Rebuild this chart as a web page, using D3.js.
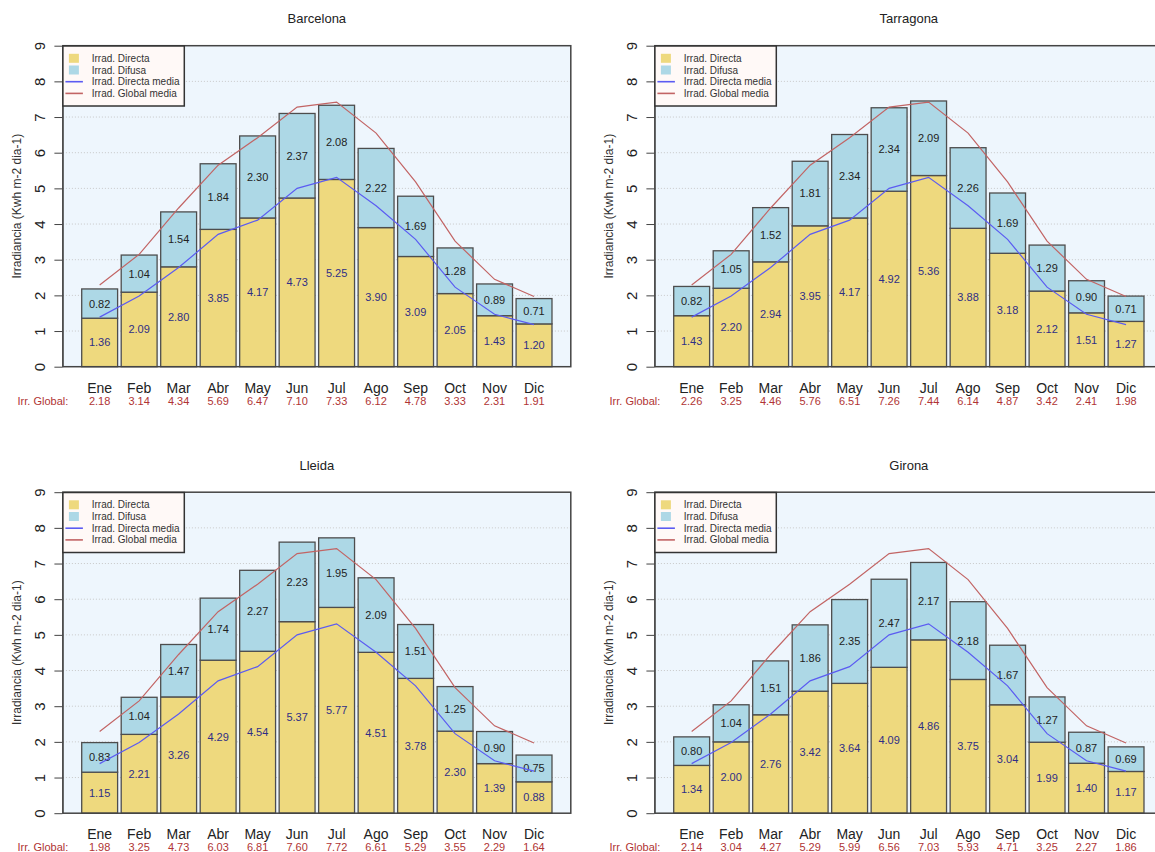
<!DOCTYPE html>
<meta charset="utf-8">
<html>
<script src="https://d3js.org/d3.v7.min.js"></script>
<style>
  body { margin: 0; background: white; }
  text { font-family: "Liberation Sans", Arial, Helvetica, sans-serif; }
</style>
<body>
<div id="myKeeper"></div>
<script>

// months and y ticks
const months = ["Ene", "Feb", "Mar", "Abr", "May", "Jun", "Jul", "Ago", "Sep", "Oct", "Nov", "Dic"];
const yTicks = [0, 1, 2, 3, 4, 5, 6, 7, 8, 9];

// values per city (kWh m-2 dia-1)
const barcelonaDirecta = [1.36, 2.09, 2.80, 3.85, 4.17, 4.73, 5.25, 3.90, 3.09, 2.05, 1.43, 1.20];
const barcelonaDifusa  = [0.82, 1.04, 1.54, 1.84, 2.30, 2.37, 2.08, 2.22, 1.69, 1.28, 0.89, 0.71];
const barcelonaGlobal  = [2.18, 3.14, 4.34, 5.69, 6.47, 7.10, 7.33, 6.12, 4.78, 3.33, 2.31, 1.91];

const tarragonaDirecta = [1.43, 2.20, 2.94, 3.95, 4.17, 4.92, 5.36, 3.88, 3.18, 2.12, 1.51, 1.27];
const tarragonaDifusa  = [0.82, 1.05, 1.52, 1.81, 2.34, 2.34, 2.09, 2.26, 1.69, 1.29, 0.90, 0.71];
const tarragonaGlobal  = [2.26, 3.25, 4.46, 5.76, 6.51, 7.26, 7.44, 6.14, 4.87, 3.42, 2.41, 1.98];

const lleidaDirecta = [1.15, 2.21, 3.26, 4.29, 4.54, 5.37, 5.77, 4.51, 3.78, 2.30, 1.39, 0.88];
const lleidaDifusa  = [0.83, 1.04, 1.47, 1.74, 2.27, 2.23, 1.95, 2.09, 1.51, 1.25, 0.90, 0.75];
const lleidaGlobal  = [1.98, 3.25, 4.73, 6.03, 6.81, 7.60, 7.72, 6.61, 5.29, 3.55, 2.29, 1.64];

const gironaDirecta = [1.34, 2.00, 2.76, 3.42, 3.64, 4.09, 4.86, 3.75, 3.04, 1.99, 1.40, 1.17];
const gironaDifusa  = [0.80, 1.04, 1.51, 1.86, 2.35, 2.47, 2.17, 2.18, 1.67, 1.27, 0.87, 0.69];
const gironaGlobal  = [2.14, 3.04, 4.27, 5.29, 5.99, 6.56, 7.03, 5.93, 4.71, 3.25, 2.27, 1.86];

// mean lines (same on every panel)
const mediaDirecta = [1.39, 1.98, 2.78, 3.71, 4.11, 5.00, 5.31, 4.51, 3.57, 2.23, 1.47, 1.18];
const mediaGlobal  = [2.29, 3.15, 4.45, 5.65, 6.42, 7.28, 7.42, 6.55, 5.18, 3.52, 2.45, 1.97];

const panels = [
  {name: "Barcelona", directa: barcelonaDirecta, difusa: barcelonaDifusa, global: barcelonaGlobal, col: 0, row: 0},
  {name: "Tarragona", directa: tarragonaDirecta, difusa: tarragonaDifusa, global: tarragonaGlobal, col: 1, row: 0},
  {name: "Lleida",    directa: lleidaDirecta,    difusa: lleidaDifusa,    global: lleidaGlobal,    col: 0, row: 1},
  {name: "Girona",    directa: gironaDirecta,    difusa: gironaDifusa,    global: gironaGlobal,    col: 1, row: 1}
];

const colX = [62.9, 654.9], rowY = [45.7, 492.2];
const plotW = 507.9, plotH = 321;

const colYellow = "#eed97e", colBlue = "#add8e6";
const colLineBlue = "#5b5bf2", colLineRed = "#c26464";

const svg = d3.select("#myKeeper")
  .append("svg")
    .attr("width", 1155)
    .attr("height", 852);

// barplot positions like R: width 1, space 0.1
const barL = i => 0.1 + 1.1 * i;

panels.forEach(p => {
  const left = colX[p.col], top = rowY[p.row];
  const g = svg.append("g");

  const x = d3.scaleLinear().domain([-0.424, 13.724]).range([left, left + plotW]);
  const y = d3.scaleLinear().domain([0, 9]).range([top + plotH, top]);

  // plot background
  g.append("rect")
    .attr("x", left).attr("y", top)
    .attr("width", plotW).attr("height", plotH)
    .attr("fill", "#eef6fd");

  // dotted grid
  g.selectAll("line.grid")
    .data(yTicks.slice(1, -1))
    .join("line")
      .attr("class", "grid")
      .attr("x1", left).attr("x2", left + plotW)
      .attr("y1", d => y(d)).attr("y2", d => y(d))
      .attr("stroke", "#c8c8c8")
      .attr("stroke-dasharray", "1,2");

  // stacked bars
  g.selectAll("rect.dir")
    .data(p.directa)
    .join("rect")
      .attr("x", (d, i) => x(barL(i)))
      .attr("y", d => y(d))
      .attr("width", (d, i) => x(barL(i) + 1) - x(barL(i)))
      .attr("height", d => y(0) - y(d))
      .attr("fill", colYellow)
      .attr("stroke", "#4d4d4d")
      .attr("stroke-width", 1.3);

  g.selectAll("rect.dif")
    .data(p.difusa)
    .join("rect")
      .attr("x", (d, i) => x(barL(i)))
      .attr("y", (d, i) => y(p.directa[i] + d))
      .attr("width", (d, i) => x(barL(i) + 1) - x(barL(i)))
      .attr("height", (d, i) => y(p.directa[i]) - y(p.directa[i] + d))
      .attr("fill", colBlue)
      .attr("stroke", "#4d4d4d")
      .attr("stroke-width", 1.3);

  // value labels
  g.selectAll("text.dir")
    .data(p.directa)
    .join("text")
      .attr("x", (d, i) => x(barL(i) + 0.5))
      .attr("y", d => y(d / 2))
      .attr("dy", "0.36em")
      .attr("text-anchor", "middle")
      .attr("font-size", "11px")
      .attr("fill", "#2e2e86")
      .text(d => d.toFixed(2));

  g.selectAll("text.dif")
    .data(p.difusa)
    .join("text")
      .attr("x", (d, i) => x(barL(i) + 0.5))
      .attr("y", (d, i) => y(p.directa[i] + d / 2))
      .attr("dy", "0.36em")
      .attr("text-anchor", "middle")
      .attr("font-size", "11px")
      .attr("fill", "#222")
      .text(d => d.toFixed(2));

  // mean lines
  const line = d3.line()
    .x((d, i) => x(barL(i) + 0.5))
    .y(d => y(d));
  g.append("path")
    .datum(mediaGlobal)
    .attr("d", line)
    .attr("fill", "none")
    .attr("stroke", colLineRed)
    .attr("stroke-width", 1.2);
  g.append("path")
    .datum(mediaDirecta)
    .attr("d", line)
    .attr("fill", "none")
    .attr("stroke", colLineBlue)
    .attr("stroke-width", 1.2);

  // box
  g.append("rect")
    .attr("x", left).attr("y", top)
    .attr("width", plotW).attr("height", plotH)
    .attr("fill", "none")
    .attr("stroke", "#444")
    .attr("stroke-width", 1.5);

  // y axis
  const yAxis = g.append("g")
    .attr("transform", `translate(${left - 0.5}, 0)`)
    .call(d3.axisLeft(y).tickValues(yTicks).tickSize(8).tickSizeOuter(0));
  yAxis.select(".domain").attr("stroke", "#444");
  yAxis.selectAll(".tick line").attr("stroke", "#444");
  yAxis.selectAll(".tick text")
    .attr("transform", "rotate(-90)")
    .attr("x", 0)
    .attr("y", -17)
    .attr("dy", 0)
    .attr("text-anchor", "middle")
    .attr("font-size", "15px")
    .attr("font-family", "Liberation Sans, Arial, sans-serif")
    .attr("fill", "#222");

  // y title
  g.append("text")
    .attr("transform", `translate(${left - 42}, ${top + plotH / 2}) rotate(-90)`)
    .attr("text-anchor", "middle")
    .attr("font-size", "12px")
    .attr("fill", "#333")
    .text("Irradiancia (Kwh m-2 dia-1)");

  // month labels
  g.selectAll("text.month")
    .data(months)
    .join("text")
      .attr("x", (d, i) => x(barL(i) + 0.5))
      .attr("y", top + plotH + 26)
      .attr("text-anchor", "middle")
      .attr("font-size", "14px")
      .attr("fill", "#222")
      .text(d => d);

  // global values
  g.append("text")
    .attr("x", left + 5.4)
    .attr("y", top + plotH + 38)
    .attr("text-anchor", "end")
    .attr("font-size", "11px")
    .attr("fill", "#b03434")
    .text("Irr. Global:");
  g.selectAll("text.glob")
    .data(p.global)
    .join("text")
      .attr("x", (d, i) => x(barL(i) + 0.5))
      .attr("y", top + plotH + 38)
      .attr("text-anchor", "middle")
      .attr("font-size", "11px")
      .attr("fill", "#b03434")
      .text(d => d.toFixed(2));

  // title
  g.append("text")
    .attr("x", left + plotW / 2)
    .attr("y", top - 22.5)
    .attr("text-anchor", "middle")
    .attr("font-size", "13px")
    .attr("fill", "#222")
    .text(p.name);

  // legend
  const lg = g.append("g").attr("transform", `translate(${left}, ${top})`);
  lg.append("rect")
    .attr("x", 0).attr("y", 0.3)
    .attr("width", 121.4).attr("height", 60)
    .attr("fill", "#fff9f7")
    .attr("stroke", "#333")
    .attr("stroke-width", 1.5);
  const items = [
    {label: "Irrad. Directa", type: "box", color: colYellow},
    {label: "Irrad. Difusa", type: "box", color: colBlue},
    {label: "Irrad. Directa media", type: "line", color: colLineBlue},
    {label: "Irrad. Global media", type: "line", color: colLineRed}
  ];
  items.forEach((it, k) => {
    const cy = 12.6 + k * 11.7;
    if (it.type == "box") {
      lg.append("rect")
        .attr("x", 6).attr("y", cy - 4.5)
        .attr("width", 10).attr("height", 9)
        .attr("fill", it.color);
    } else {
      lg.append("line")
        .attr("x1", 2.5).attr("x2", 20)
        .attr("y1", cy).attr("y2", cy)
        .attr("stroke", it.color)
        .attr("stroke-width", 1.6);
    }
    lg.append("text")
      .attr("x", 28.8).attr("y", cy)
      .attr("dy", "0.36em")
      .attr("font-size", "10px")
      .attr("fill", "#333")
      .text(it.label);
  });
});

</script>
</body>
</html>
